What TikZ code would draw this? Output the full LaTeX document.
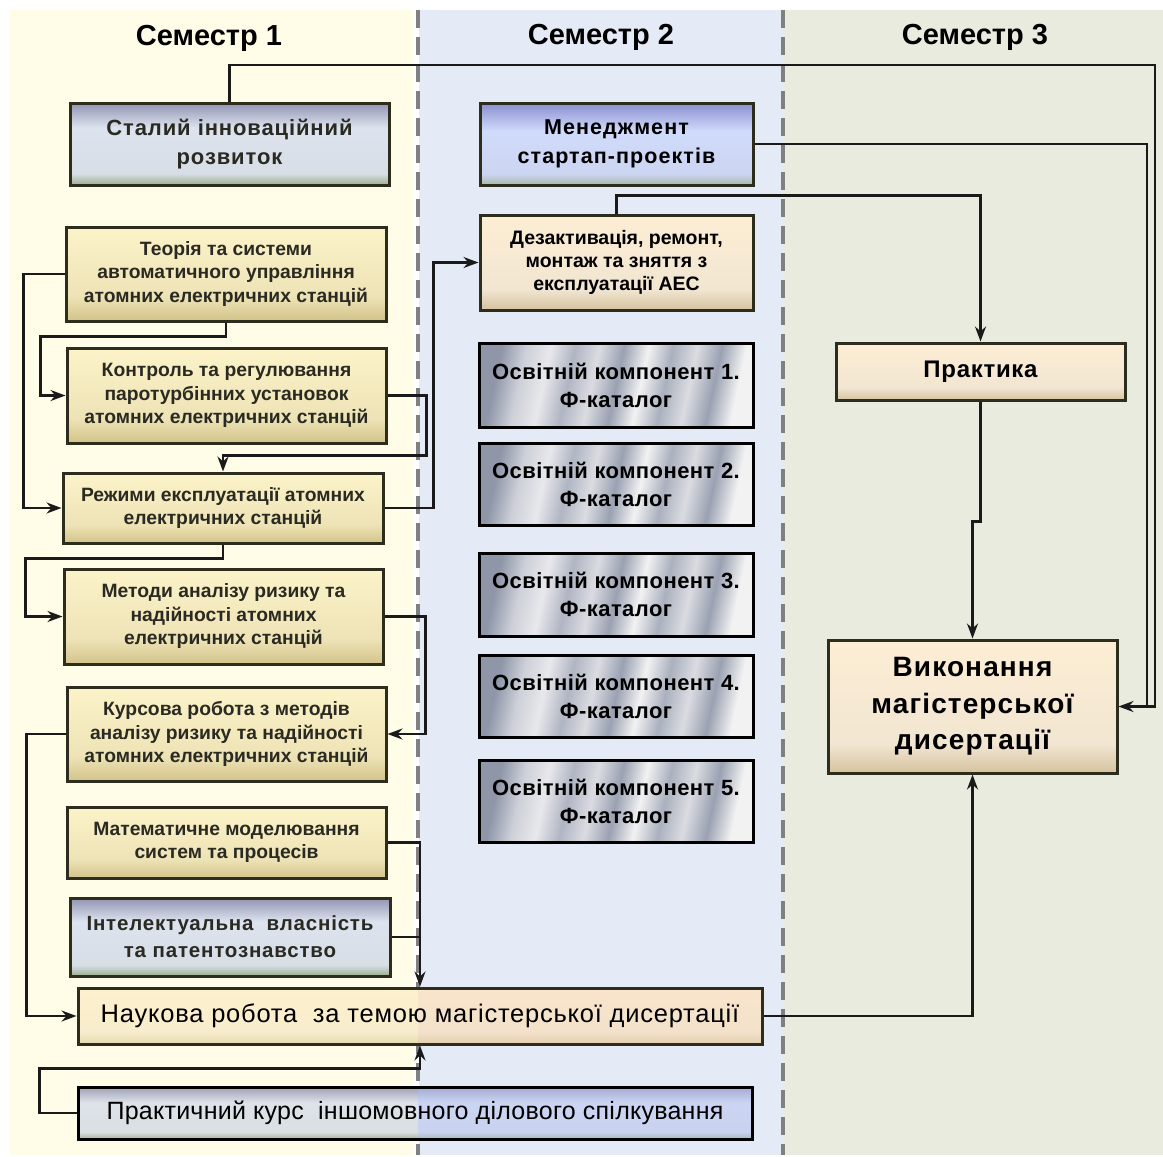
\documentclass[tikz,border=0pt]{standalone}
\usepackage{fontspec}
\setmainfont{Liberation Sans}
\newfontfamily\spacedfont[LetterSpace=4]{Liberation Sans}
\newfontfamily\kfont[LetterSpace=5]{Liberation Sans}
\newfontfamily\metalfont[LetterSpace=2]{Liberation Sans}
\newfontfamily\ifont[LetterSpace=3]{Liberation Sans}
\newfontfamily\jfont[LetterSpace=1]{Liberation Sans}
\newfontfamily\nfont[LetterSpace=3]{Liberation Sans}
\usetikzlibrary{arrows.meta,calc}

\definecolor{colA}{HTML}{FFFDE8}
\definecolor{colB}{HTML}{E4EAF6}
\definecolor{colC}{HTML}{E8EBDD}
\definecolor{dashc}{HTML}{808080}
\definecolor{connc}{HTML}{1A1A1A}
\definecolor{boxline}{HTML}{2D2D1E}
\definecolor{txtdark}{HTML}{2A2A22}
% yellow
\definecolor{ybot}{HTML}{D3C38A}
\definecolor{ymid}{HTML}{EDE3B6}
\definecolor{ytop}{HTML}{FDF3C9}
% grey-blue
\definecolor{gbot}{HTML}{9CAE8E}
\definecolor{gmid}{HTML}{D7DEE6}
\definecolor{gmid2}{HTML}{DCE3EE}
\definecolor{gtop}{HTML}{9294B3}
% blue
\definecolor{bbot}{HTML}{A9B8A8}
\definecolor{bmid}{HTML}{CCD6F2}
\definecolor{bmid2}{HTML}{D0DAFA}
\definecolor{btop}{HTML}{8A8FD0}
% peach
\definecolor{pbot}{HTML}{D5C29E}
\definecolor{pmid}{HTML}{F2E6D2}
\definecolor{ptop}{HTML}{FDEDD4}
% overlays
\definecolor{ovyel}{HTML}{FFF6C6}
\definecolor{ovpeach}{HTML}{F6DCC2}
\definecolor{ovblue}{HTML}{B8C6FA}
\definecolor{ovgrey}{HTML}{E8E6D0}
% metal
\definecolor{m1}{HTML}{8E96A8}
\definecolor{m2}{HTML}{CDD0D8}
\definecolor{m3}{HTML}{E8E8EC}
\definecolor{m4}{HTML}{B0B5C3}
\definecolor{m5}{HTML}{DADCE1}
\definecolor{m6}{HTML}{9AA1B2}
\definecolor{m7}{HTML}{F2F2F2}
\definecolor{m8}{HTML}{AAB0BE}

\pgfdeclareverticalshading{shyel}{100bp}{color(0bp)=(ybot); color(25bp)=(ybot); color(38bp)=(ymid); color(75bp)=(ytop); color(100bp)=(ytop)}
\pgfdeclareverticalshading{shgrey}{100bp}{color(0bp)=(gbot); color(25bp)=(gbot); color(32bp)=(gmid); color(60bp)=(gmid2); color(75bp)=(gtop); color(100bp)=(gtop)}
\pgfdeclareverticalshading{shblue}{100bp}{color(0bp)=(bbot); color(25bp)=(bbot); color(32bp)=(bmid); color(58bp)=(bmid2); color(75bp)=(btop); color(100bp)=(btop)}
\pgfdeclareverticalshading{shpeach}{100bp}{color(0bp)=(pbot); color(25bp)=(pbot); color(36bp)=(pmid); color(75bp)=(ptop); color(100bp)=(ptop)}
\pgfdeclarehorizontalshading{shmetal}{100bp}{color(0bp)=(m1); color(25bp)=(m1); color(30bp)=(m2); color(35bp)=(m3); color(40bp)=(m4); color(45bp)=(m5); color(50bp)=(m6); color(55bp)=(m7); color(60bp)=(m8); color(65bp)=(m5); color(70bp)=(m6); color(75bp)=(m7); color(100bp)=(m7)}

\begin{document}
\begin{tikzpicture}[x=1pt,y=-1pt,
  wh/.style 2 args={minimum width=#1pt, minimum height=#2pt},
  box/.style={draw=boxline, line width=3pt, inner sep=0pt, align=center, anchor=center},
  ybox/.style={box, shade, shading=shyel, text=txtdark, font=\bfseries\fontsize{19.3}{23.5}\selectfont},
  gbox/.style={box, shade, shading=shgrey, text=txtdark, font=\spacedfont\bfseries\fontsize{22}{28.5}\selectfont},
  bbox/.style={box, shade, shading=shblue, text=black, font=\kfont\bfseries\fontsize{21.5}{29}\selectfont},
  pbox/.style={box, shade, shading=shpeach, text=black},
  mbox/.style={box, draw=black, shade, shading=shmetal, shading angle=-12, text=black, font=\metalfont\bfseries\fontsize{22}{28}\selectfont},
  split/.style n args={5}{path picture={
      \fill[#2, opacity=#3] (path picture bounding box.north west) rectangle ($(path picture bounding box.south)+(#1,0)$);
      \fill[#4, opacity=#5] ($(path picture bounding box.north)+(#1,0)$) rectangle (path picture bounding box.south east);}},
  title/.style={font=\bfseries\fontsize{29}{32}\selectfont, text=black, inner sep=0pt},
  dashln/.style={draw=dashc, line width=3.5pt, dash pattern=on 18pt off 9pt},
  conn/.style={draw=connc, line width=2.5pt},
  arr/.style={conn, -{Stealth[length=15pt,width=11pt,inset=5pt]}}
]
\useasboundingbox (0,0) rectangle (1163,1157);
\fill[white] (0,0) rectangle (1163,1157);
% columns
\fill[colA] (10,10) rectangle (413,1155);
\fill[colB] (419,10) rectangle (783,1155);
\fill[colC] (783,10) rectangle (1163,1155);
\draw[dashln] (418,10) -- (418,1155);
\draw[dashln] (783,10) -- (783,1155);

% titles
\node[title] (t1) at (209,38) {Семестр 1};
\node[title] (t2) at (601,37) {Семестр 2};
\node[title] (t3) at (975,37) {Семестр 3};

% column 1
\node[gbox, wh={319}{82}] (A) at (229.5,144) {Сталий інноваційний\\розвиток};
\node[ybox, wh={320}{94}] (B) at (226,274) {Теорія та системи\\автоматичного управління\\атомних електричних станцій};
\node[ybox, wh={319}{95}] (C) at (226.5,395.5) {Контроль та регулювання\\паротурбінних установок\\атомних електричних станцій};
\node[ybox, wh={320}{70}] (D) at (223,508) {Режими експлуатації атомних\\електричних станцій};
\node[ybox, wh={319}{95}] (E) at (223.5,616.5) {Методи аналізу ризику та\\надійності атомних\\електричних станцій};
\node[ybox, wh={319}{94}] (F) at (226.5,734) {Курсова робота з методів\\аналізу ризику та надійності\\атомних електричних станцій};
\node[ybox, wh={319}{71}] (G) at (226.5,842.5) {Математичне моделювання\\систем та процесів};
\node[gbox, wh={320}{78}, font=\spacedfont\bfseries\fontsize{20.5}{27}\selectfont] (H) at (230,937) {Інтелектуальна\ \ власність\\та патентознавство};
\node[pbox, wh={684}{56}, split={-2}{ovyel}{0.45}{ovpeach}{0.45}, font=\ifont\fontsize{25.5}{28}\selectfont] (I) at (420,1016) {Наукова робота\ \ за темою магістерської дисертації};
\node[gbox, wh={674}{52}, split={3}{ovgrey}{0.15}{ovblue}{0.45}, draw=black, text=black, font=\jfont\fontsize{25}{26}\selectfont] (J) at (415,1113) {Практичний курс\ \ іншомовного ділового спілкування};

% column 2
\node[bbox, wh={273}{82}] (K) at (616.5,144) {Менеджмент\\стартап-проектів};
\node[pbox, wh={273}{95}, font=\bfseries\fontsize{19.5}{23}\selectfont] (L) at (616.5,262.5) {Дезактивація, ремонт,\\монтаж та зняття з\\експлуатації АЕС};
\node[mbox, wh={274}{84}] (M1) at (616,385) {Освітній компонент 1.\\Ф-каталог};
\node[mbox, wh={274}{82}] (M2) at (616,484) {Освітній компонент 2.\\Ф-каталог};
\node[mbox, wh={274}{83}] (M3) at (616,594.5) {Освітній компонент 3.\\Ф-каталог};
\node[mbox, wh={274}{82}] (M4) at (616,696) {Освітній компонент 4.\\Ф-каталог};
\node[mbox, wh={274}{82}] (M5) at (616,801) {Освітній компонент 5.\\Ф-каталог};

% column 3
\node[pbox, wh={289}{57}, font=\nfont\bfseries\fontsize{24}{27}\selectfont] (N) at (980.5,371.5) {Практика};
\node[pbox, wh={289}{133}, font=\spacedfont\bfseries\fontsize{28}{36.5}\selectfont] (O) at (972.5,706.5) {Виконання\\магістерської\\дисертації};

% connectors on the right
\coordinate (r1) at (1155,65);
\coordinate (r1b) at (1155,706.5);
\coordinate (r2) at (1147,706.5);
\draw[conn] (A.north) |- (r1) -- (r1b) -- (r2);
\draw[arr] (K.east) -| (r2) -- (O.east);
\draw[arr] (L.north) -- ++(0,-18) -| (N.north);
\draw[arr] (N.south) -- ++(0,120) -| (O.north);
\draw[arr] (I.east) -| (O.south);

% connectors on the left
\draw[arr] (B.west) -- ++(-41,0) |- (D.west);
\draw[arr] (B.south) -- ++(0,14) -| ($(C.west)+(-25,0)$) -- (C.west);
\draw[arr] (C.east) -- ++(39,0) |- ($(D.north)+(0,-16)$) -- (D.north);
\draw[arr] (D.east) -- ++(49,0) |- (L.west);
\draw[arr] (D.south) -- ++(0,14) -| ($(E.west)+(-37,0)$) -- (E.west);
\draw[arr] (E.east) -- ++(41,0) |- (F.east);
\draw[arr] (F.west) -- ++(-39,0) |- (I.west);
\draw[arr] (G.east) -| (I.north);
\draw[conn] (H.east) -- (H.east -| I.north);
\draw[arr] (J.west) -- ++(-37,0) |- ($(I.south)+(0,23)$) -- (I.south);
\end{tikzpicture}
\end{document}
